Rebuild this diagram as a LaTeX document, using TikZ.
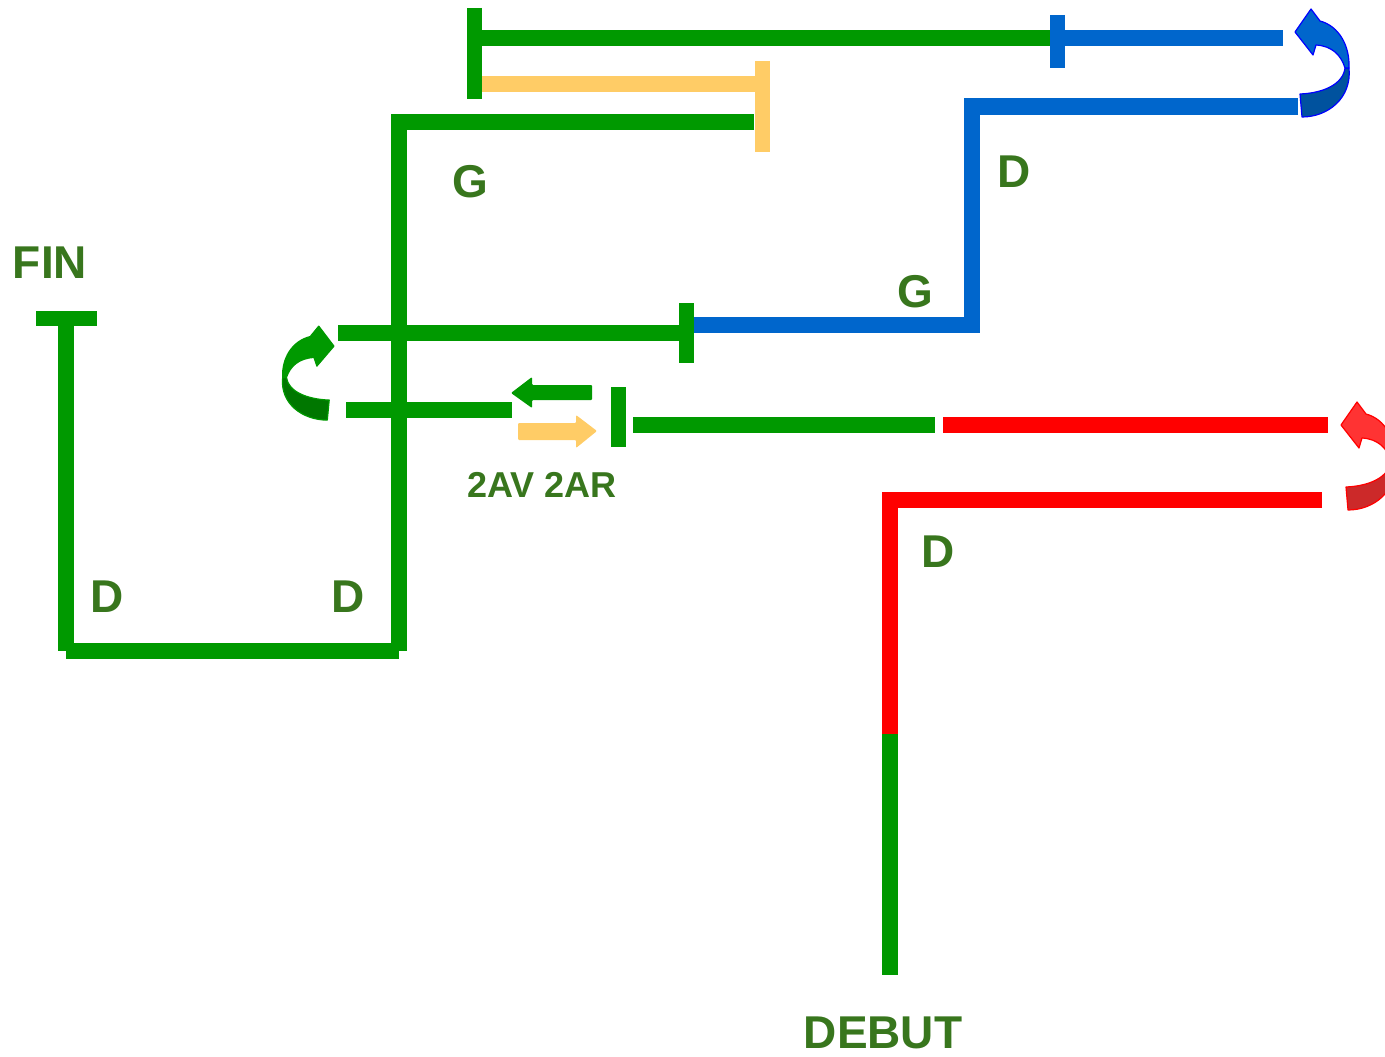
\documentclass[tikz,border=0pt]{standalone}
\usepackage{fontspec}
\setmainfont{Liberation Sans}
\definecolor{tg}{HTML}{009900}
\definecolor{tgd}{HTML}{007700}
\definecolor{tb}{HTML}{0066CC}
\definecolor{tbd}{HTML}{00529E}
\definecolor{tbo}{HTML}{0000FF}
\definecolor{tr}{HTML}{FF0000}
\definecolor{trl}{HTML}{FF3333}
\definecolor{trd}{HTML}{CC2929}
\definecolor{to}{HTML}{FFCC66}
\definecolor{lbl}{HTML}{38761D}
\newcommand\myuturn[4]{%
  \begin{scope}[#1]
    \filldraw[fill=#3, draw=#4, line width=1.2pt, line join=round]
      (53,58) .. controls (56,88) and (32,107) .. (6,107) -- (4,84)
      .. controls (28,83) and (47,74) .. (49,58) -- cycle;
    \filldraw[fill=#2, draw=#4, line width=1.2pt, line join=round]
      (-1,22) -- (15,-1) -- (24,11) .. controls (43,16) and (54,36) .. (53,58)
      -- (49,58) .. controls (45,45) and (36,36) .. (20,35) -- (17,45) -- cycle;
  \end{scope}}
\begin{document}
\begin{tikzpicture}[x=1pt,y=-1pt,
  track/.style={line width=16pt},
  tick/.style={line width=15pt},
  lab/.style={text=lbl, font=\bfseries\fontsize{46}{46}\selectfont, inner sep=0pt, anchor=base},
  smalllab/.style={lab, font=\bfseries\fontsize{36}{36}\selectfont}]
\useasboundingbox (0,0) rectangle (1385,1057);

% coordinates
\coordinate (tt1) at (474.5,8);   \coordinate (tt2) at (474.5,99);
\coordinate (ta) at (482,38.5);   \coordinate (tb) at (1057,38.5); \coordinate (tc) at (1283,38.5);
\coordinate (bt1) at (1057,15);   \coordinate (bt2) at (1057,68);
\coordinate (oa) at (482,84);     \coordinate (ob) at (762,84);
\coordinate (ot1) at (762,61);    \coordinate (ot2) at (762,152);
\coordinate (ga) at (754,122);    \coordinate (gb) at (399,122); \coordinate (gc) at (399,651);
\coordinate (ba) at (1298,106.5); \coordinate (bb) at (972,106.5); \coordinate (bc) at (972,325); \coordinate (bd) at (686,325);
\coordinate (mt1) at (686,303);   \coordinate (mt2) at (686,363);
\coordinate (ma) at (686,333);    \coordinate (mb) at (338,333);
\coordinate (la) at (346,409.5);  \coordinate (lb) at (512,409.5);
\coordinate (st1) at (618,387);   \coordinate (st2) at (618,447);
\coordinate (sa) at (633,424.5);  \coordinate (sb) at (935,424.5);
\coordinate (ra) at (943,424.5);  \coordinate (rb) at (1328,424.5);
\coordinate (rc) at (1322,500);   \coordinate (rd) at (890,500); \coordinate (re) at (890,734); \coordinate (rf) at (890,975);
\coordinate (ft1) at (36,318);    \coordinate (ft2) at (97,318);
\coordinate (fa) at (66,318);     \coordinate (fb) at (66,651);

% top
\draw[track, tg] (ta) -- (tb);
\draw[track, tb] (tb) -- (tc);
\draw[tick, tb] (bt1) -- (bt2);
\draw[track, to] (oa) -- (ob);
\draw[tick, tg] (tt1) -- (tt2);
\draw[track, tg] (ga) -- (gb) -- (gc);
\draw[tick, to] (ot1) -- (ot2);
% blue
\draw[track, tb] (ba) -- (bb) -- (bc) -- (bd);
\draw[track, tg] (ma) -- (mb);
\draw[tick, tg] (mt1) -- (mt2);
% middle
\draw[track, tg] (la) -- (lb);
\draw[tick, tg] (st1) -- (st2);
\draw[track, tg] (sa) -- (sb);
\draw[track, tr] (ra) -- (rb);
\draw[track, tr] (rc) -- (rd) -- (re);
\draw[track, tg] (re) -- (rf);
% left
\draw[tick, tg] (ft1) -- (ft2);
\draw[track, tg] (fa) -- (fb);
\draw[track, tg] (fb) -- (gc);
\draw[track, tg] (gb) -- (gc);

% small arrows
\fill[tg, rounded corners=1pt] (511,393) -- (532,377) -- (532,385) -- (592,385) -- (592,400) -- (532,400) -- (532,408) -- cycle;
\fill[to, rounded corners=1pt] (597,431) -- (576,415) -- (576,423) -- (518,423) -- (518,440) -- (576,440) -- (576,448) -- cycle;

% u-turn arrows
\myuturn{shift={(1296,10)}}{tb}{tbd}{tbo}
\myuturn{shift={(1342,403)}}{trl}{trd}{tr}
\myuturn{shift={(333,327)}, xscale=-0.95, yscale=0.87}{tg}{tgd}{tg}

% labels
\node[lab] (g1) at (470,197) {G};
\node[lab] (d1) at (1014,187) {D};
\node[lab] (g2) at (915,307) {G};
\node[lab] (fin) at (50,278) {FIN};
\node[lab] (d2) at (107,612) {D};
\node[lab] (d3) at (348,612) {D};
\node[smalllab] (av) at (542,497) {2AV 2AR};
\node[lab] (d4) at (938,567) {D};
\node[lab] (deb) at (883,1048) {DEBUT};
\end{tikzpicture}
\end{document}
